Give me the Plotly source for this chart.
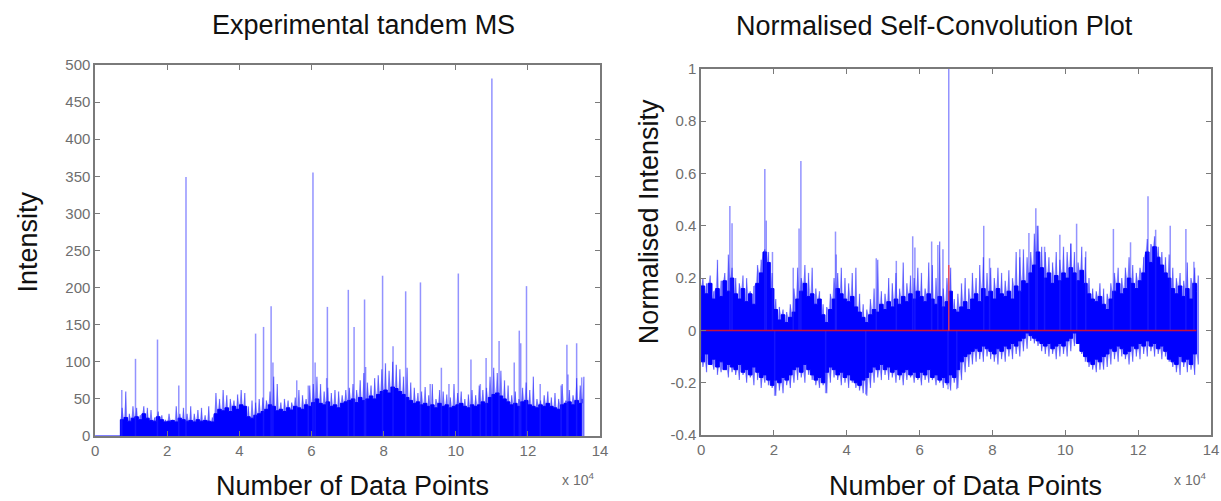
import plotly.graph_objects as go

# ---------------- DATA (x in units of 10^4 data points) ----------------
# Left panel: experimental tandem MS
left_zero_x = [0.0, 0.69]            # flat zero segment before the data starts
left_grid_start = 0.7                # grid of the dense noise band (step 0.1)
left_grid_step = 0.1
left_solid = [22, 25, 20, 24,
              26, 22, 30, 24, 21,  20, 26, 22, 19, 20,
              21, 19, 24, 22, 20,  21, 19, 22, 20, 21,
              20, 19, 30, 36, 34,  38, 33, 40, 36, 42,
              40, 26, 24, 28, 30,  33, 36, 42, 40, 34,
              36, 33, 38, 35, 40,  38, 36, 42, 40, 45,
              50, 44, 42, 46, 40,  42, 38, 44, 46, 48,
              50, 45, 52, 48, 50,  54, 50, 56, 60, 62,
              58, 66, 64, 60, 56,  52, 48, 44, 46, 42,
              44, 40, 42, 38, 44,  40, 42, 38, 40, 42,
              44, 40, 38, 42, 40,  42, 46, 44, 52, 56,
              58, 54, 50, 46, 42,  44, 40, 46, 48, 42,
              40, 38, 42, 40, 44,  40, 38, 36, 42, 44,
              46, 42, 48, 44, 50]
left_fringe = [38, 60, 30, 40,
               38, 28, 40, 38, 35,  25, 33, 28, 22, 30,
               22, 40, 30, 38, 30,  40, 30, 35, 38, 28,
               40, 25, 58, 50, 62,  55, 50, 48, 56, 62,
               58, 40, 48, 45, 50,  52, 48, 60, 80, 70,
               45, 50, 48, 45, 52,  62, 55, 50, 68, 70,
               80, 70, 60, 65, 58,  62, 60, 55, 62, 65,
               70, 62, 75, 85, 72,  68, 78, 82, 90, 98,
               88, 100, 96, 90, 80, 92, 72, 65, 58, 60,
               66, 55, 70, 50, 62,  60, 56, 52, 70, 58,
               60, 50, 56, 62, 55,  68, 62, 65, 80, 92,
               85, 88, 75, 68, 55,  60, 50, 65, 72, 62,
               80, 50, 48, 55, 60,  52, 58, 50, 70, 48,
               62, 55, 78, 68, 80]
left_peak_x = [0.74, 1.12, 1.73, 2.32, 2.52, 4.45, 4.67, 4.88, 4.93, 5.59, 5.91,
               6.04, 6.10, 6.42, 6.44, 7.02, 7.18, 7.47, 7.50, 7.97, 8.26, 8.61,
               9.02, 9.29, 9.60, 9.81, 10.07, 10.42, 10.68, 10.84, 11.00, 11.20,
               11.62, 11.76, 11.80, 11.96, 12.34, 12.92, 13.08, 13.11, 13.35, 13.49]
left_peak_y = [62, 104, 130, 68, 349, 138, 147, 175, 99, 75, 68,
               355, 99, 78, 174, 197, 147, 184, 93, 216, 121, 195,
               207, 70, 92, 70, 219, 103, 70, 105, 482, 128,
               99, 142, 125, 202, 70, 68, 123, 83, 125, 79]

# Right panel: normalised self-convolution
right_grid_start = 0.0
right_grid_step = 0.1
right_upper_solid = [.17, .14, .18, .12, .16, .13, .19, .15, .20, .14,
                     .12, .16, .11, .14, .10, .18, .22, .30, .26, .16,
                     .08, .04, .06, .03, .05, .07, .12, .15, .18, .13,
                     .14, .10, .12, .06, .03, .08, .12, .16, .14, .12,
                     .11, .13, .09, .07, .05, .03, .06, .08, .07, .10,
                     .08, .11, .09, .12, .10, .13, .11, .14, .12, .15,
                     .13, .11, .14, .12, .10, .13, .09, .11, .15, .08,
                     .07, .09, .11, .08, .12, .14, .11, .16, .13, .15,
                     .12, .16, .14, .13, .15, .12, .17, .15, .19, .18,
                     .22, .25, .30, .24, .20, .22, .18, .21, .19, .22,
                     .20, .24, .22, .19, .23, .18, .14, .12, .11, .13,
                     .10, .08, .12, .15, .18, .14, .16, .20, .18, .16,
                     .19, .22, .30, .26, .32, .28, .25, .22, .20, .16,
                     .14, .17, .13, .16, .12, .18, .15]
right_lower_solid = [-.10, -.12, -.09, -.13, -.11, -.14, -.12, -.15, -.13, -.14,
                     -.15, -.13, -.16, -.15, -.17, -.14, -.16, -.18, -.17, -.19,
                     -.21, -.19, -.20, -.18, -.19, -.17, -.15, -.14, -.16, -.13,
                     -.15, -.17, -.19, -.18, -.20, -.16, -.14, -.15, -.17, -.16,
                     -.18, -.17, -.19, -.20, -.21, -.19, -.18, -.16, -.14, -.15,
                     -.13, -.15, -.14, -.16, -.15, -.17, -.16, -.15, -.17, -.16,
                     -.18, -.16, -.17, -.15, -.18, -.17, -.19, -.18, -.20, -.17,
                     -.18, -.15, -.12, -.10, -.09, -.08, -.07, -.08, -.06, -.07,
                     -.08, -.09, -.07, -.08, -.06, -.07, -.05, -.06, -.04, -.03,
                     -.01, -.02, -.03, -.04, -.05, -.06, -.05, -.07, -.06, -.05,
                     -.06, -.04, -.03, -.01, -.05, -.08, -.10, -.12, -.13, -.11,
                     -.12, -.10, -.09, -.07, -.08, -.06, -.07, -.09, -.08, -.06,
                     -.07, -.05, -.06, -.04, -.06, -.05, -.07, -.06, -.08, -.11,
                     -.12, -.13, -.10, -.12, -.11, -.13, -.09]
right_upper_fringe = [.20, .18, .21, .15, .27, .19, .22, .29, .24, .20,
                      .18, .21, .20, .15, .17, .25, .27, .31, .30, .22,
                      .12, .09, .08, .07, .10, .16, .24, .20, .25, .22,
                      .24, .16, .15, .10, .09, .14, .20, .22, .24, .20,
                      .18, .22, .24, .14, .10, .08, .12, .16, .27, .15,
                      .14, .20, .18, .22, .16, .26, .18, .21, .20, .24,
                      .22, .16, .26, .25, .20, .34, .16, .20, .24, .12,
                      .14, .18, .20, .16, .22, .20, .25, .28, .22, .24,
                      .20, .24, .22, .19, .23, .20, .30, .28, .31, .28,
                      .30, .37, .40, .32, .30, .28, .26, .30, .27, .32,
                      .30, .33, .30, .26, .32, .28, .20, .16, .15, .18,
                      .16, .14, .18, .22, .24, .20, .24, .28, .25, .22,
                      .24, .28, .35, .33, .36, .32, .30, .28, .29, .24,
                      .20, .22, .19, .26, .20, .24, .21]
right_lower_fringe = [-.14, -.16, -.13, -.15, -.17, -.16, -.14, -.18, -.16, -.17,
                      -.19, -.17, -.20, -.18, -.21, -.19, -.22, -.20, -.21, -.22,
                      -.25, -.23, -.24, -.21, -.22, -.20, -.19, -.18, -.20, -.17,
                      -.19, -.21, -.22, -.21, -.24, -.20, -.18, -.19, -.21, -.20,
                      -.22, -.20, -.22, -.23, -.24, -.25, -.22, -.20, -.18, -.19,
                      -.17, -.19, -.18, -.20, -.19, -.21, -.19, -.18, -.20, -.19,
                      -.21, -.19, -.20, -.19, -.21, -.20, -.22, -.21, -.23, -.20,
                      -.22, -.19, -.16, -.14, -.13, -.12, -.11, -.12, -.10, -.11,
                      -.12, -.13, -.11, -.12, -.10, -.11, -.09, -.10, -.08, -.07,
                      -.04, -.05, -.06, -.08, -.09, -.10, -.09, -.11, -.10, -.09,
                      -.10, -.08, -.06, -.04, -.09, -.12, -.14, -.15, -.16, -.15,
                      -.15, -.14, -.13, -.11, -.12, -.10, -.11, -.13, -.12, -.10,
                      -.11, -.09, -.10, -.08, -.10, -.09, -.11, -.10, -.12, -.14,
                      -.16, -.17, -.14, -.16, -.15, -.17, -.13]
right_peak_x = [0.79, 0.85, 1.75, 1.79, 1.96, 2.53, 2.69, 2.74, 3.69, 3.71, 4.81,
                5.36, 5.81, 5.87, 6.33, 6.50, 6.64, 6.80, 7.76, 7.92, 8.75, 9.00,
                9.19, 9.23, 9.43, 9.85, 10.15, 10.31, 10.56, 11.32, 11.79, 12.27,
                12.48, 12.88, 13.31, 13.53]
right_peak_y = [0.476, 0.41, 0.617, 0.42, 0.30, 0.24, 0.39, 0.648, 0.378, 0.29, 0.276,
                0.266, 0.36, 0.317, 0.34, 0.327, 0.31, 1.0, 0.40, 0.276, 0.31, 0.373,
                0.467, 0.40, 0.32, 0.366, 0.333, 0.408, 0.302, 0.388, 0.337, 0.513,
                0.385, 0.40, 0.388, 0.263]
right_dip_x = [2.02, 3.42, 4.52, 6.78, 7.02]
right_dip_y = [-0.25, -0.24, -0.245, -0.225, -0.225]
red_line_x = [0.0, 13.6]
red_line_y = [0.0, 0.0]
red_spike_x = [6.8]
red_spike_y = [0.25]

left_xticks = [0, 2, 4, 6, 8, 10, 12, 14]
left_yticks = [0, 50, 100, 150, 200, 250, 300, 350, 400, 450, 500]
right_xticks = [0, 2, 4, 6, 8, 10, 12, 14]
right_yticks = [-0.4, -0.2, 0, 0.2, 0.4, 0.6, 0.8, 1]
right_yticktext = ["-0.4", "-0.2", "0", "0.2", "0.4", "0.6", "0.8", "1"]

# ---------------- helpers ----------------
def grid(start, step, n, offset=0.0):
    return [round(start + offset + step * i, 4) for i in range(n)]

def stems(xs, lo, hi):
    sx, sy = [], []
    for x, a, b in zip(xs, lo, hi):
        sx += [x, x, None]
        sy += [a, b, None]
    return sx, sy

def interleave(xa, ya, xb, yb):
    ox, oy = [], []
    for a, b, c, d in zip(xa, ya, xb, yb):
        ox += [a, c]
        oy += [b, d]
    return ox, oy

BLUE = "#0000ff"
LIGHT = "rgba(0,0,255,0.5)"
HALO = "rgba(0,0,255,0.33)"
SPIKE = "rgba(40,40,255,0.5)"

fig = go.Figure()

# ---- left panel ----
lx = grid(left_grid_start, left_grid_step, len(left_solid))
lfx = grid(left_grid_start, left_grid_step, len(left_fringe), offset=0.05)
hx, hy = interleave(lx, left_solid, lfx, left_fringe)
fig.add_trace(go.Scatter(x=hx, y=hy, mode="lines", line=dict(color="rgba(0,0,0,0)", width=0),
                         fill="tozeroy", fillcolor=HALO, xaxis="x", yaxis="y", hoverinfo="skip"))
fx, fy = stems(lfx, [0] * len(left_fringe), left_fringe)
fig.add_trace(go.Scatter(x=fx, y=fy, mode="lines", line=dict(color=LIGHT, width=1.3),
                         xaxis="x", yaxis="y", hoverinfo="skip"))
fig.add_trace(go.Scatter(x=left_zero_x + lx, y=[0, 0] + left_solid, mode="lines",
                         line=dict(color=BLUE, width=1, shape="hv"), fill="tozeroy", fillcolor=BLUE,
                         xaxis="x", yaxis="y"))
px_, py_ = stems(left_peak_x, [0] * len(left_peak_x), left_peak_y)
fig.add_trace(go.Scatter(x=px_, y=py_, mode="lines", line=dict(color=SPIKE, width=1.5),
                         xaxis="x", yaxis="y"))

# ---- right panel ----
rx = grid(right_grid_start, right_grid_step, len(right_upper_solid))
rfx = grid(right_grid_start, right_grid_step, len(right_upper_fringe), offset=0.05)
ux, uy = interleave(rx, right_upper_solid, rfx, right_upper_fringe)
dx, dy = interleave(rx, right_lower_solid, rfx, right_lower_fringe)
fig.add_trace(go.Scatter(x=ux + dx[::-1], y=uy + dy[::-1], mode="lines",
                         line=dict(color="rgba(0,0,0,0)", width=0), fill="toself", fillcolor=HALO,
                         xaxis="x2", yaxis="y2", hoverinfo="skip"))
fx, fy = stems(rfx, right_lower_fringe, right_upper_fringe)
fig.add_trace(go.Scatter(x=fx, y=fy, mode="lines", line=dict(color=LIGHT, width=1.3),
                         xaxis="x2", yaxis="y2", hoverinfo="skip"))
fig.add_trace(go.Scatter(x=rx + rx[::-1], y=right_upper_solid + right_lower_solid[::-1],
                         mode="lines", line=dict(color=BLUE, width=1, shape="hv"), fill="toself",
                         fillcolor=BLUE, xaxis="x2", yaxis="y2"))
px_, py_ = stems(right_peak_x, [0] * len(right_peak_x), right_peak_y)
fig.add_trace(go.Scatter(x=px_, y=py_, mode="lines", line=dict(color=SPIKE, width=1.5),
                         xaxis="x2", yaxis="y2"))
px_, py_ = stems(right_dip_x, [0] * len(right_dip_x), right_dip_y)
fig.add_trace(go.Scatter(x=px_, y=py_, mode="lines", line=dict(color=SPIKE, width=1.5),
                         xaxis="x2", yaxis="y2"))
fig.add_trace(go.Scatter(x=red_line_x, y=red_line_y, mode="lines",
                         line=dict(color="#c8103c", width=1.5), xaxis="x2", yaxis="y2"))
px_, py_ = stems(red_spike_x, [0], red_spike_y)
fig.add_trace(go.Scatter(x=px_, y=py_, mode="lines", line=dict(color="rgba(255,60,60,0.8)", width=1.5),
                         xaxis="x2", yaxis="y2"))

# ---------------- layout ----------------
W, H = 1221, 501
def fx_(p): return p / W
def fy_(p): return 1 - p / H

FONT = "Liberation Sans, Arial, sans-serif"
TICKF = dict(family=FONT, size=15, color="#6e6e6e")
axis_common = dict(showline=True, linecolor="#7a7a7a", linewidth=1.5, mirror="ticks",
                   ticks="inside", ticklen=5, tickwidth=1, tickcolor="#7a7a7a",
                   showgrid=False, zeroline=False, tickfont=TICKF)

fig.update_layout(
    width=W, height=H, autosize=False, showlegend=False,
    margin=dict(l=0, r=0, t=0, b=0),
    paper_bgcolor="white", plot_bgcolor="white",
    font=dict(family=FONT),
    xaxis=dict(domain=[fx_(92), fx_(602)], range=[0, 14], tickvals=left_xticks,
               anchor="y", **axis_common),
    yaxis=dict(domain=[fy_(442), fy_(58)], range=[0, 500], tickvals=left_yticks,
               anchor="x", **axis_common),
    xaxis2=dict(domain=[fx_(704), fx_(1219)], range=[0, 14], tickvals=right_xticks,
                anchor="y2", **axis_common),
    yaxis2=dict(domain=[fy_(441), fy_(62)], range=[-0.4, 1], tickvals=right_yticks,
                ticktext=right_yticktext, anchor="x2", **axis_common),
)

big = dict(family=FONT, size=27, color="#111111")
small = dict(family=FONT, size=14, color="#6e6e6e")
ann = [
    dict(text="Experimental tandem MS", x=fx_(363), y=fy_(17), font=big),
    dict(text="Normalised Self-Convolution Plot", x=fx_(940), y=fy_(18), font=big),
    dict(text="Number of Data Points", x=fx_(352), y=fy_(494), font=big),
    dict(text="Number of Data Points", x=fx_(971), y=fy_(494), font=big),
    dict(text="Intensity", x=fx_(24), y=fy_(241), font=big, textangle=-90),
    dict(text="Normalised Intensity", x=fx_(651), y=fy_(220), font=big, textangle=-90),
    dict(text="x 10<sup>4</sup>", x=fx_(580), y=fy_(486), font=small),
    dict(text="x 10<sup>4</sup>", x=fx_(1198), y=fy_(486), font=small),
]
for a in ann:
    a.update(xref="paper", yref="paper", showarrow=False, xanchor="center", yanchor="middle")
fig.update_layout(annotations=ann)

fig.write_html("out.html")
